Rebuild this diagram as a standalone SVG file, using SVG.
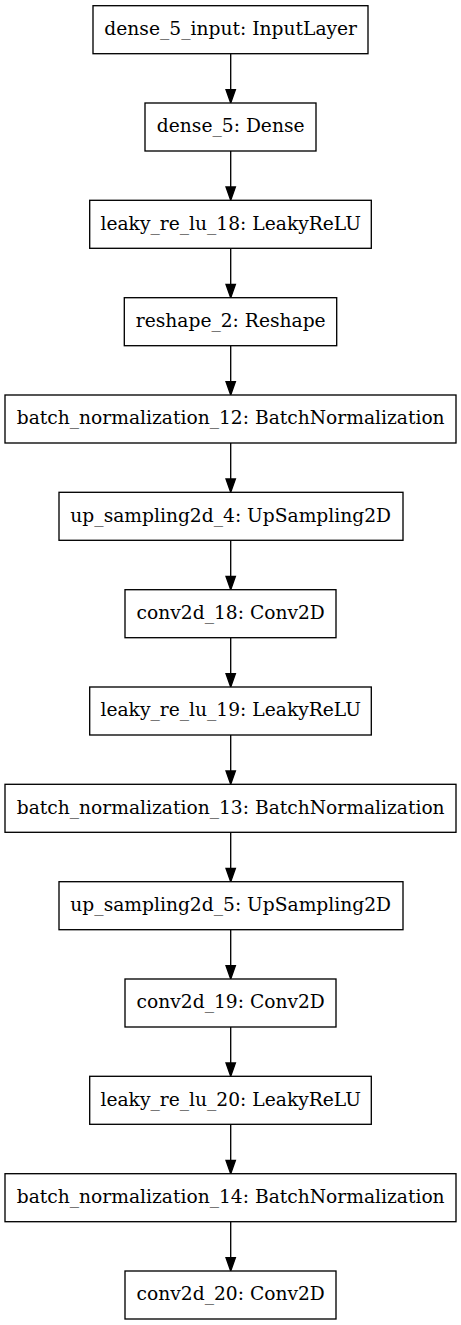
<svg xmlns="http://www.w3.org/2000/svg" width="461" height="1325" viewBox="0 0 461 1325">
<defs>
<style>
.n rect{fill:#fff;stroke:#000;stroke-width:1.33}
.n text{font-family:"DejaVu Serif",serif;font-size:18.67px;text-anchor:middle;fill:#000}
.e line{stroke:#000;stroke-width:1.33}
.e path{fill:#000;stroke:#000;stroke-width:1.33}
</style>
</defs>
<rect width="461" height="1325" fill="#fff"/>
<g id="connectors" class="e">
<line x1="230.7" y1="53.7" x2="230.7" y2="89.7"/><path d="M226,89.7 L235.4,89.7 L230.7,103 Z"/>
<line x1="230.7" y1="151" x2="230.7" y2="187"/><path d="M226,187 L235.4,187 L230.7,200.3 Z"/>
<line x1="230.7" y1="248.3" x2="230.7" y2="284.3"/><path d="M226,284.3 L235.4,284.3 L230.7,297.7 Z"/>
<line x1="230.7" y1="345.7" x2="230.7" y2="381.7"/><path d="M226,381.7 L235.4,381.7 L230.7,395 Z"/>
<line x1="230.7" y1="443" x2="230.7" y2="479"/><path d="M226,479 L235.4,479 L230.7,492.3 Z"/>
<line x1="230.7" y1="540.3" x2="230.7" y2="576.3"/><path d="M226,576.3 L235.4,576.3 L230.7,589.7 Z"/>
<line x1="230.7" y1="637.7" x2="230.7" y2="673.7"/><path d="M226,673.7 L235.4,673.7 L230.7,687 Z"/>
<line x1="230.7" y1="735" x2="230.7" y2="771"/><path d="M226,771 L235.4,771 L230.7,784.3 Z"/>
<line x1="230.7" y1="832.3" x2="230.7" y2="868.3"/><path d="M226,868.3 L235.4,868.3 L230.7,881.7 Z"/>
<line x1="230.7" y1="929.7" x2="230.7" y2="965.7"/><path d="M226,965.7 L235.4,965.7 L230.7,979 Z"/>
<line x1="230.7" y1="1027" x2="230.7" y2="1063"/><path d="M226,1063 L235.4,1063 L230.7,1076.3 Z"/>
<line x1="230.7" y1="1124.3" x2="230.7" y2="1160.3"/><path d="M226,1160.3 L235.4,1160.3 L230.7,1173.7 Z"/>
<line x1="230.7" y1="1221.7" x2="230.7" y2="1257.7"/><path d="M226,1257.7 L235.4,1257.7 L230.7,1271 Z"/>
</g>
<g id="n1" class="n"><rect x="93" y="5.7" width="275" height="48"/><text x="230.7" y="35">dense_5_input: InputLayer</text></g>
<g id="n2" class="n"><rect x="145" y="103" width="171" height="48"/><text x="230.7" y="132.3">dense_5: Dense</text></g>
<g id="n3" class="n"><rect x="89.7" y="200.3" width="281.6" height="48"/><text x="230.7" y="229.6">leaky_re_lu_18: LeakyReLU</text></g>
<g id="n4" class="n"><rect x="124.3" y="297.7" width="212.4" height="48"/><text x="230.7" y="327">reshape_2: Reshape</text></g>
<g id="n5" class="n"><rect x="5" y="395" width="451" height="48"/><text x="230.7" y="424.3">batch_normalization_12: BatchNormalization</text></g>
<g id="n6" class="n"><rect x="59" y="492.3" width="344" height="48"/><text x="230.7" y="521.6">up_sampling2d_4: UpSampling2D</text></g>
<g id="n7" class="n"><rect x="125" y="589.7" width="211" height="48"/><text x="230.7" y="619">conv2d_18: Conv2D</text></g>
<g id="n8" class="n"><rect x="89.7" y="687" width="281.6" height="48"/><text x="230.7" y="716.3">leaky_re_lu_19: LeakyReLU</text></g>
<g id="n9" class="n"><rect x="5" y="784.3" width="451" height="48"/><text x="230.7" y="813.6">batch_normalization_13: BatchNormalization</text></g>
<g id="n10" class="n"><rect x="59" y="881.7" width="344" height="48"/><text x="230.7" y="911">up_sampling2d_5: UpSampling2D</text></g>
<g id="n11" class="n"><rect x="125" y="979" width="211" height="48"/><text x="230.7" y="1008.3">conv2d_19: Conv2D</text></g>
<g id="n12" class="n"><rect x="89.7" y="1076.3" width="281.6" height="48"/><text x="230.7" y="1105.6">leaky_re_lu_20: LeakyReLU</text></g>
<g id="n13" class="n"><rect x="5" y="1173.7" width="451" height="48"/><text x="230.7" y="1203">batch_normalization_14: BatchNormalization</text></g>
<g id="n14" class="n"><rect x="125" y="1271" width="211" height="48"/><text x="230.7" y="1300.3">conv2d_20: Conv2D</text></g>
</svg>
